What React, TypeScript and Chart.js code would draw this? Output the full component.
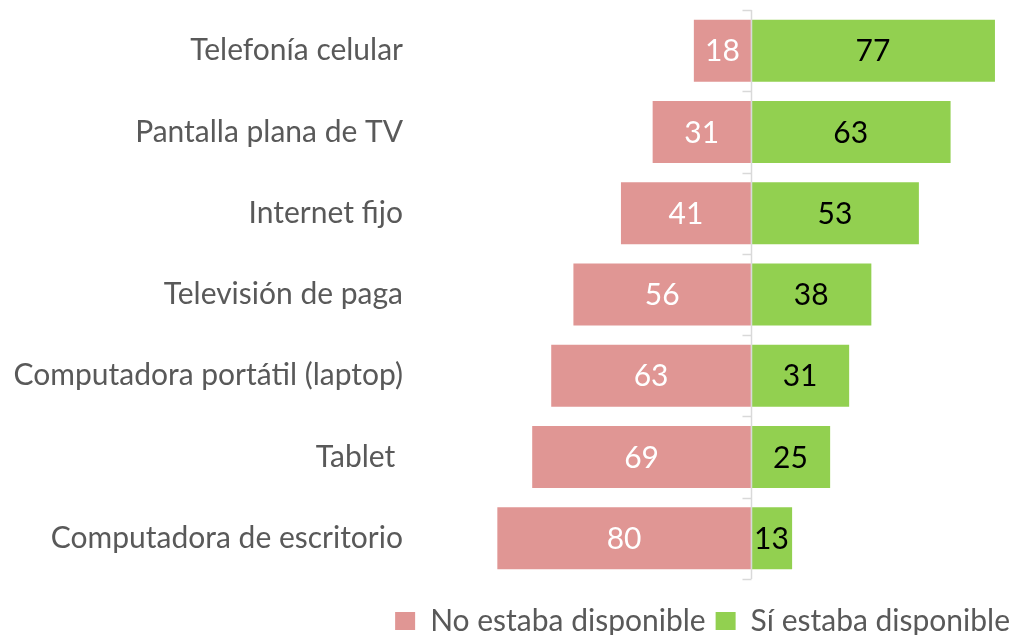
import React, { useEffect, useRef } from "react";
import { Chart, registerables } from "chart.js";

Chart.register(...registerables);

const categories = [
  "Telefonía celular",
  "Pantalla plana de TV",
  "Internet fijo",
  "Televisión de paga",
  "Computadora portátil (laptop)",
  "Tablet ",
  "Computadora de escritorio",
];
const noDisponible = [18, 31, 41, 56, 63, 69, 80];
const siDisponible = [77, 63, 53, 38, 31, 25, 13];
const seriesNames = ["No estaba disponible", "Sí estaba disponible"];

const PINK = "#E09694";
const GREEN = "#92D050";
const FONT = "Lato";
const FS = 30;

const valueLabels = {
  id: "valueLabels",
  afterDatasetsDraw(chart: any) {
    const ctx = chart.ctx;
    chart.data.datasets.forEach((ds: any, di: number) => {
      const meta = chart.getDatasetMeta(di);
      meta.data.forEach((bar: any, i: number) => {
        const v = ds.data[i];
        const p = bar.getProps(["x", "base", "y"], true);
        ctx.save();
        ctx.fillStyle = di === 0 ? "#ffffff" : "#000000";
        ctx.font = `${FS}px ${FONT}`;
        ctx.textAlign = "center";
        ctx.textBaseline = "middle";
        ctx.fillText(String(Math.abs(v)), (p.x + p.base) / 2, p.y + 1);
        ctx.restore();
      });
    });
  },
};

const zeroAxis = {
  id: "zeroAxis",
  afterDatasetsDraw(chart: any) {
    const ctx = chart.ctx;
    const xs = chart.scales.x;
    const ys = chart.scales.y;
    const area = chart.chartArea;
    const x0 = Math.round(xs.getPixelForValue(0)) + 0.5;
    const n = ys.getLabels().length;
    ctx.save();
    ctx.strokeStyle = "#D9D9D9";
    ctx.lineWidth = 1.5;
    ctx.beginPath();
    ctx.moveTo(x0, area.top);
    ctx.lineTo(x0, area.bottom);
    const ys2: number[] = [area.top];
    for (let i = 0; i < n - 1; i++) {
      ys2.push((ys.getPixelForValue(i) + ys.getPixelForValue(i + 1)) / 2);
    }
    ys2.push(area.bottom);
    ys2.forEach((y) => {
      const yy = Math.round(y) + 0.5;
      ctx.moveTo(x0 - 9, yy);
      ctx.lineTo(x0, yy);
    });
    ctx.stroke();
    ctx.restore();
  },
};

export default function App() {
  const ref = useRef<HTMLCanvasElement | null>(null);
  useEffect(() => {
    if (!ref.current) return;
    const chart = new Chart(ref.current, {
      type: "bar",
      data: {
        labels: categories,
        datasets: [
          {
            label: seriesNames[0],
            data: noDisponible.map((v) => -v),
            backgroundColor: PINK,
            borderWidth: 0,
            barPercentage: 0.763,
            categoryPercentage: 1,
          },
          {
            label: seriesNames[1],
            data: siDisponible,
            backgroundColor: GREEN,
            borderWidth: 0,
            barPercentage: 0.763,
            categoryPercentage: 1,
          },
        ],
      },
      options: {
        indexAxis: "y",
        animation: false,
        responsive: false,
        layout: { padding: { top: 10, right: 0, left: 0, bottom: 0 } },
        scales: {
          x: {
            stacked: true,
            min: -104.4,
            max: 84.9,
            display: false,
          },
          y: {
            stacked: true,
            grid: { display: false },
            border: { display: false },
            ticks: {
              color: "#595959",
              padding: 9,
              font: { family: FONT, size: FS },
            },
            afterFit: (s: any) => {
              s.width = 420;
              s.paddingTop = 0;
              s.paddingBottom = 0;
            },
          },
        },
        plugins: {
          tooltip: { enabled: false },
          legend: {
            position: "bottom",
            align: "end",
            title: {
              display: true,
              text: " ",
              font: { size: 10, lineHeight: 1 },
              padding: { top: 7, bottom: 0 },
            },
            labels: {
              boxWidth: 20,
              boxHeight: 18,
              padding: 10,
              color: "#595959",
              font: { family: FONT, size: FS },
            },
          },
        },
      },
      plugins: [valueLabels, zeroAxis],
    });
    return () => chart.destroy();
  }, []);
  return (
    <div
      style={{
        position: "absolute",
        left: 0,
        top: 0,
        width: 1020,
        height: 635,
        overflow: "hidden",
        background: "#ffffff",
      }}
    >
      <canvas ref={ref} width={1020} height={646} style={{ display: "block" }} />
    </div>
  );
}
